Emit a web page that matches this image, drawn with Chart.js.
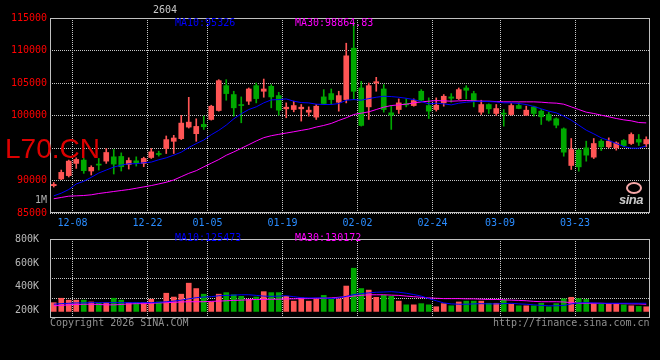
<!DOCTYPE html>
<html>
<head>
<meta charset="utf-8">
<script src="https://cdn.jsdelivr.net/npm/chart.js@4.4.1/dist/chart.umd.min.js"></script>
<style>
html, body { margin: 0; padding: 0; background: #000; }
#wrap { position: relative; width: 660px; height: 360px; background: #000; overflow: hidden; font-family: "DejaVu Sans Mono", monospace; }
canvas { position: absolute; left: 0; }
#price { top: 0; }
#vol { top: 230px; }
.txt { position: absolute; font-size: 10px; line-height: 10px; white-space: nowrap; }
#code { position: absolute; left: 5px; top: 133px; font: 28px "Liberation Sans", Arial, sans-serif; color: #dd0000; }
#eye { position: absolute; left: 626px; top: 182px; width: 12px; height: 8px; border: 2px solid #f6a8a8; border-radius: 50%; }
#sina { position: absolute; left: 619px; top: 192px; font: italic bold 13px "Liberation Sans", Arial, sans-serif; color: #c8c8c8; letter-spacing: -0.5px; }
</style>
</head>
<body>
<div id="wrap">
	<canvas id="price" width="660" height="232"></canvas>
	<canvas id="vol" width="660" height="130"></canvas>

	<div class="txt" style="left:153px; top:5px; color:#c8c8c8;">2604</div>
	<div class="txt" style="left:175px; top:18px; color:#0000ff;">MA10:95326</div>
	<div class="txt" style="left:295px; top:18px; color:#ff00ff;">MA30:98864.83</div>
	<div id="code">L70.CN</div>
	<div class="txt" style="left:35px; top:195px; color:#b0b0b0;">1M</div>
	<div id="eye"></div>
	<div id="sina">sina</div>

	<div class="txt" style="left:175px; top:233px; color:#0000ff;">MA10:125473</div>
	<div class="txt" style="left:295px; top:233px; color:#ff00ff;">MA30:130172</div>
	<div class="txt" style="left:50px; top:318px; color:#909090;">Copyright 2026 SINA.COM</div>
	<div class="txt" style="left:493px; top:318px; color:#909090;">http://finance.sina.com.cn</div>
</div>

<script>
const dates = [
	"12-03", "12-04", "12-05", "12-08", "12-09", "12-10", "12-11", "12-12", "12-15", "12-16",
	"12-17", "12-18", "12-19", "12-22", "12-23", "12-24", "12-25", "12-26", "12-29", "12-30",
	"12-31", "01-05", "01-06", "01-07", "01-08", "01-09", "01-12", "01-13", "01-14", "01-15",
	"01-16", "01-19", "01-20", "01-21", "01-22", "01-23", "01-26", "01-27", "01-28", "01-29",
	"01-30", "02-02", "02-03", "02-04", "02-05", "02-06", "02-09", "02-10", "02-11", "02-12",
	"02-13", "02-24", "02-25", "02-26", "02-27", "03-02", "03-03", "03-04", "03-05", "03-06",
	"03-09", "03-10", "03-11", "03-12", "03-13", "03-16", "03-17", "03-18", "03-19", "03-20",
	"03-23", "03-24", "03-25", "03-26", "03-27", "03-30", "03-31", "04-01", "04-02", "04-03"
];
const tickDates = ["12-08", "12-22", "01-05", "01-19", "02-02", "02-24", "03-09", "03-23"];
// 95000 sits under the code label in the original, so it is not printed
const priceTicks = [85000, 90000, 100000, 105000, 110000, 115000];

const opens = [
	89200, 90240, 90750, 92630, 93140, 91460, 92470, 92980, 93640, 93700,
	92470, 93030, 92630, 93540, 94150, 94920, 96030, 96440, 98220, 97200,
	98630, 99390, 100770, 104590, 103220, 101630, 102200, 104590, 103730, 104490,
	103060, 101020, 100920, 101020, 100510, 99750, 102860, 103370, 102040, 102450,
	110360, 104240, 101330, 105000, 104080, 100410, 100920, 101840, 101530, 103730,
	101530, 100920, 101940, 102860, 102600, 104240, 103370, 100510, 101690, 100310,
	100310, 100150, 101540, 100050, 101330, 100670, 100150, 99490, 97950, 92310,
	94670, 95020, 93590, 96050, 95180, 95020, 96150, 95690, 96310, 95640
];
const highs = [
	89700, 91610, 93140, 93490, 93390, 92270, 93390, 94920, 94760, 94250,
	93490, 93640, 93590, 94920, 94510, 96850, 96950, 100000, 102800, 99490,
	99900, 101580, 105510, 105510, 103730, 102860, 104240, 105000, 105610, 104750,
	103570, 101940, 102200, 101690, 101330, 101690, 103980, 104080, 103730, 111120,
	114300, 105260, 105000, 105870, 104750, 101530, 102550, 102600, 102550, 103980,
	102710, 102710, 103220, 103370, 104240, 104590, 103730, 102350, 101790, 101690,
	100920, 101850, 101950, 101440, 101440, 100920, 100510, 99640, 98100, 96460,
	94870, 96050, 96460, 96310, 96560, 95950, 96310, 97330, 97080, 96720
];
const lows = [
	89000, 90130, 90540, 91860, 91100, 90850, 91610, 92630, 91000, 91460,
	91760, 92220, 92120, 93390, 93750, 94150, 94150, 96290, 98070, 96030,
	97860, 99290, 100670, 102350, 99900, 98880, 101690, 101940, 102810, 101180,
	100050, 99650, 100560, 99140, 99900, 99390, 101690, 101690, 100670, 101940,
	102450, 98370, 99390, 103730, 100510, 97860, 100310, 101330, 101430, 102200,
	99540, 100670, 101430, 102040, 102450, 102550, 101330, 100160, 100310, 100000,
	98360, 100050, 101030, 100000, 99900, 98620, 99130, 98100, 93740, 91690,
	91430, 92970, 93380, 94610, 95020, 94670, 95180, 95540, 95380, 95180
];
const closes = [
	89400, 91250, 92980, 93240, 91510, 92020, 92370, 94310, 92530, 92120,
	93080, 92730, 93390, 94410, 94000, 96290, 96540, 98830, 98980, 98320,
	98270, 101430, 105360, 103370, 101180, 101530, 104080, 102600, 104080, 102860,
	100820, 101280, 101530, 101280, 100820, 101430, 101840, 102450, 103060, 109180,
	103730, 98470, 104590, 105200, 100920, 100050, 101940, 101630, 102300, 102350,
	100670, 101580, 102960, 102650, 103980, 103880, 102200, 101690, 101020, 101070,
	100210, 101540, 101080, 100820, 100310, 99800, 99280, 98510, 94360, 94770,
	92100, 93900, 95690, 95180, 96050, 95790, 95380, 97080, 95900, 96310
];

const ma10 = [
	87640, 88050, 88610, 89470, 89880, 90490, 91150, 91610, 92070, 92370,
	92580, 92580, 92730, 92830, 93190, 93490, 93900, 94360, 95070, 95680,
	96230, 97040, 97710, 98520, 99490, 100260, 100920, 101330, 101940, 102400,
	102450, 102550, 102200, 101990, 101940, 101740, 101690, 101690, 101840, 102350,
	102450, 102350, 102600, 102810, 102960, 102910, 102810, 102650, 102450, 102140,
	101790, 101890, 101790, 101630, 101890, 102040, 102140, 102200, 102140, 102090,
	101950, 101950, 101850, 101690, 101390, 101030, 100670, 100410, 99900, 99280,
	98510, 97740, 97180, 96560, 96150, 95690, 95230, 94970, 94970, 95326
];
const ma30 = [
	87190, 87390, 87590, 87640, 87690, 87800, 88000, 88150, 88310, 88460,
	88610, 88810, 89020, 89220, 89470, 89730, 90080, 90590, 91100, 91510,
	92100, 92660, 93220, 93880, 94390, 94950, 95510, 96080, 96590, 96890,
	97100, 97300, 97500, 97710, 97910, 98220, 98470, 98780, 99240, 99650,
	100160, 100360, 100560, 100920, 101280, 101530, 101630, 101740, 101940, 102090,
	102200, 102300, 102250, 102200, 102250, 102300, 102250, 102200, 102200, 102140,
	102100, 102100, 102100, 102100, 102100, 102050, 101950, 101900, 101740, 101330,
	100920, 100510, 100310, 100050, 99800, 99540, 99330, 99180, 98920, 98865
];

const volumes = [
	268000, 305000, 289000, 289000, 289000, 274000, 263000, 268000, 305000, 289000,
	268000, 268000, 268000, 297000, 274000, 347000, 315000, 339000, 431000, 386000,
	339000, 274000, 339000, 352000, 334000, 321000, 295000, 315000, 360000, 352000,
	352000, 321000, 281000, 308000, 281000, 300000, 329000, 300000, 300000, 407000,
	556000, 386000, 373000, 313000, 329000, 321000, 281000, 250000, 250000, 260000,
	250000, 234000, 260000, 242000, 274000, 281000, 281000, 281000, 263000, 263000,
	289000, 255000, 242000, 242000, 242000, 263000, 234000, 260000, 300000, 313000,
	302000, 295000, 260000, 260000, 255000, 255000, 250000, 242000, 237000, 234000
];
const volMa10 = [
	255000, 260000, 263000, 266000, 266000, 268000, 268000, 268000, 268000, 268000,
	268000, 268000, 268000, 268000, 271000, 276000, 281000, 289000, 300000, 310000,
	315000, 318000, 326000, 329000, 331000, 334000, 334000, 329000, 323000, 321000,
	323000, 326000, 318000, 310000, 308000, 308000, 308000, 302000, 308000, 321000,
	336000, 344000, 350000, 355000, 357000, 360000, 355000, 347000, 336000, 323000,
	302000, 284000, 266000, 258000, 255000, 255000, 258000, 260000, 258000, 258000,
	260000, 263000, 258000, 255000, 250000, 245000, 242000, 242000, 245000, 258000,
	266000, 268000, 266000, 263000, 263000, 263000, 263000, 263000, 263000, 263000
];
const volMa30 = [
	242000, 245000, 250000, 253000, 255000, 255000, 253000, 250000, 250000, 253000,
	258000, 260000, 260000, 263000, 266000, 268000, 271000, 274000, 276000, 276000,
	276000, 279000, 281000, 284000, 287000, 289000, 292000, 295000, 295000, 297000,
	297000, 300000, 300000, 302000, 302000, 305000, 305000, 308000, 313000, 318000,
	323000, 329000, 334000, 334000, 334000, 331000, 329000, 323000, 318000, 313000,
	308000, 305000, 302000, 302000, 302000, 300000, 300000, 297000, 295000, 295000,
	292000, 289000, 287000, 284000, 279000, 276000, 276000, 276000, 274000, 268000,
	263000, 263000, 263000, 263000, 260000, 260000, 260000, 258000, 258000, 255000
];
const volTicks = [200000, 400000, 600000, 800000];

const UP = "#ff5555";
const DOWN = "#00a800";
const GRID = "#c8c8c8";
const FONT = { family: "'DejaVu Sans Mono', monospace", size: 10 };

const candleColors = closes.map((c, i) => c >= opens[i] ? UP : DOWN);

// grid only at the labelled dates
const dateGrid = (ctx) => tickDates.includes(dates[ctx.index]) ? GRID : "rgba(0,0,0,0)";

const frame = {
	id: "frame",
	afterDraw(chart) {
		const { ctx, chartArea: a } = chart;
		ctx.save();
		ctx.strokeStyle = "#c0c0c0";
		ctx.lineWidth = 1;
		ctx.strokeRect(Math.round(a.left) + 0.5, Math.round(a.top) + 0.5,
			Math.round(a.right - a.left) - 1, Math.round(a.bottom - a.top) - 1);
		ctx.restore();
	}
};

new Chart(document.getElementById("price"), {
	type: "bar",
	data: {
		labels: dates,
		datasets: [
			{ type: "line", data: ma10, borderColor: "#0000ff", borderWidth: 1, pointRadius: 0, tension: 0, order: 0 },
			{ type: "line", data: ma30, borderColor: "#ff00ff", borderWidth: 1, pointRadius: 0, tension: 0, order: 0 },
			{
				data: lows.map((l, i) => [l, highs[i]]),
				backgroundColor: candleColors, barThickness: 1, grouped: false, order: 2
			},
			{
				data: opens.map((o, i) => [o, closes[i]]),
				backgroundColor: candleColors, barThickness: 5, minBarLength: 1, grouped: false, order: 1
			}
		]
	},
	options: {
		responsive: false,
		animation: false,
		devicePixelRatio: 1,
		layout: { padding: { top: 18, right: 10, left: 0, bottom: 0 } },
		plugins: { legend: { display: false }, tooltip: { enabled: false } },
		scales: {
			x: {
				offset: true,
				grid: { offset: true, color: dateGrid, drawTicks: false },
				border: { display: false, dash: [1, 1] },
				ticks: {
					autoSkip: false, maxRotation: 0, color: "#2a8cff", font: FONT, padding: 4,
					labelOffset: -3.75,
					callback: (v, i) => tickDates.includes(dates[i]) ? dates[i] : ""
				},
				afterFit: s => { s.height = 19; }
			},
			y: {
				min: 85000, max: 115000,
				ticks: {
					stepSize: 5000, color: "#ff0000", font: FONT, padding: 3,
					callback: v => priceTicks.includes(v) ? String(v) : ""
				},
				grid: { color: GRID, drawTicks: false },
				border: { display: false, dash: [1, 1] },
				afterFit: s => { s.width = 50; }
			}
		}
	},
	plugins: [frame]
});

new Chart(document.getElementById("vol"), {
	type: "bar",
	data: {
		labels: dates,
		datasets: [
			{ type: "line", data: volMa10, borderColor: "#0000ff", borderWidth: 1, pointRadius: 0, tension: 0, order: 0 },
			{ type: "line", data: volMa30, borderColor: "#ff00ff", borderWidth: 1, pointRadius: 0, tension: 0, order: 0 },
			{ data: volumes, backgroundColor: candleColors, barThickness: 5, base: 195000, order: 1 }
		]
	},
	options: {
		responsive: false,
		animation: false,
		devicePixelRatio: 1,
		layout: { padding: { top: 4, right: 10, left: 0, bottom: 42 } },
		plugins: { legend: { display: false }, tooltip: { enabled: false } },
		scales: {
			x: {
				offset: true,
				grid: { offset: true, color: dateGrid, drawTicks: false },
				border: { display: false, dash: [1, 1] },
				ticks: { display: false, autoSkip: false },
				afterFit: s => { s.height = 0; }
			},
			y: {
				min: 140000, max: 800000,
				afterBuildTicks: s => { s.ticks = volTicks.map(v => ({ value: v })); },
				ticks: { color: "#b8b8b8", font: FONT, padding: 3, callback: v => (v / 1000) + "K" },
				grid: { display: false },
				border: { display: false },
				afterFit: s => { s.width = 50; }
			},
			yg: {
				position: "left",
				min: 140000, max: 800000,
				afterBuildTicks: s => {
					s.ticks = [1, 2, 3].map(k => ({ value: s.min + (s.max - s.min) * k / 4 }));
				},
				ticks: { display: false },
				grid: { color: GRID, drawTicks: false },
				border: { display: false, dash: [1, 1] },
				afterFit: s => { s.width = 0; }
			}
		}
	},
	plugins: [frame]
});
</script>
</body>
</html>
